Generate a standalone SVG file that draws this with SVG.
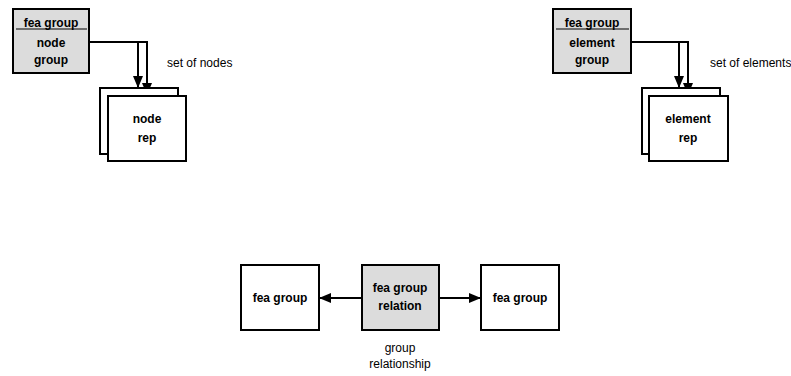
<svg xmlns="http://www.w3.org/2000/svg" width="791" height="376" viewBox="0 0 791 376">
<style>
.box{fill:#fff;stroke:#000;stroke-width:2}
.gray{fill:#dcdcdc;stroke:#000;stroke-width:2}
.b{font-family:"Liberation Sans",Arial,sans-serif;font-size:12px;font-weight:bold;text-anchor:middle}
.n{font-family:"Liberation Sans",Arial,sans-serif;font-size:12px}
.c{fill:none;stroke:#000;stroke-width:2}
</style>
<defs>
<marker id="ah" viewBox="0 0 12 10" refX="12" refY="5" markerWidth="6" markerHeight="5" orient="auto" markerUnits="strokeWidth">
<path d="M0,0 L12,5 L0,10 Z" fill="#000"/>
</marker>
</defs>
<g id="connectors">
<path class="c" d="M89,42 H147 V95" marker-end="url(#ah)"/>
<path class="c" d="M138,42 V88" marker-end="url(#ah)"/>
<path class="c" d="M631,42 H688 V95" marker-end="url(#ah)"/>
<path class="c" d="M679,42 V88" marker-end="url(#ah)"/>
<path class="c" d="M362,298 H319" marker-end="url(#ah)"/>
<path class="c" d="M439,298 H481" marker-end="url(#ah)"/>
</g>
<g id="node-group">
<rect class="gray" x="13" y="9" width="76" height="64"/>
<line x1="16" y1="29" x2="87" y2="29" stroke="#000" stroke-width="1"/>
<text class="b" x="51" y="27">fea group</text>
<text class="b" x="51" y="47">node</text>
<text class="b" x="51" y="64">group</text>
</g>
<g id="node-rep">
<rect class="box" x="100" y="88" width="78" height="66"/>
<rect class="box" x="108" y="96" width="78" height="65"/>
<text class="b" x="147" y="123">node</text>
<text class="b" x="147" y="142">rep</text>
</g>
<text class="n" x="167" y="67">set of nodes</text>
<g id="element-group">
<rect class="gray" x="553" y="9" width="78" height="64"/>
<line x1="556" y1="29" x2="629" y2="29" stroke="#000" stroke-width="1"/>
<text class="b" x="592" y="27">fea group</text>
<text class="b" x="592" y="47">element</text>
<text class="b" x="592" y="64">group</text>
</g>
<g id="element-rep">
<rect class="box" x="642" y="88" width="78" height="66"/>
<rect class="box" x="649" y="96" width="79" height="65"/>
<text class="b" x="688" y="123">element</text>
<text class="b" x="688" y="142">rep</text>
</g>
<text class="n" x="710" y="67">set of elements</text>
<g id="fea-group-left">
<rect class="box" x="241" y="265" width="78" height="65"/>
<text class="b" x="280" y="302">fea group</text>
</g>
<g id="fea-group-relation">
<rect class="gray" x="362" y="265" width="77" height="65"/>
<text class="b" x="400" y="292">fea group</text>
<text class="b" x="400" y="310">relation</text>
</g>
<g id="fea-group-right">
<rect class="box" x="481" y="265" width="78" height="65"/>
<text class="b" x="520" y="302">fea group</text>
</g>
<text class="n" x="400" y="352" text-anchor="middle">group</text>
<text class="n" x="400" y="368" text-anchor="middle">relationship</text>
</svg>
